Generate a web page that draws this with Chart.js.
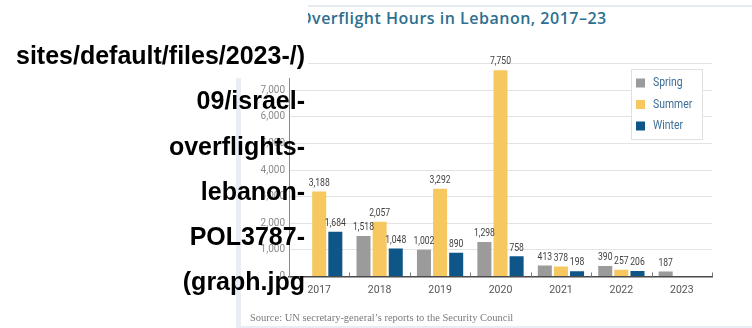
<!DOCTYPE html>
<html><head><meta charset="utf-8">
<script src="https://cdn.jsdelivr.net/npm/chart.js@4.4.0/dist/chart.umd.min.js"></script>
<style>
html,body{margin:0;padding:0;background:#fff;width:752px;height:328px;overflow:hidden;}
#wrap{position:relative;width:752px;height:328px;}
canvas{position:absolute;left:0;top:0;}
.abs{position:absolute;}
#topline{left:308px;top:5px;width:444px;height:2px;background:#e6ebf0;}
#title{left:299px;top:8px;font:600 16px "Open Sans",sans-serif;letter-spacing:0.5px;color:#2e6f90;white-space:nowrap;line-height:20px;}
#leftstrip{left:236px;top:78px;width:5px;height:250px;background:#e8eef4;}
#bottomstrip{left:236px;top:326px;width:516px;height:2px;background:#e8eef4;}
#source{left:250px;top:312px;font:10.5px "Liberation Serif",serif;color:#7a7a7a;white-space:nowrap;line-height:12px;}
#cover{left:0;top:0;width:308px;height:78px;background:#fff;}
#alt{left:0;top:33px;width:305px;text-align:right;font:bold 25px "Liberation Sans",Arial,sans-serif;line-height:45.3px;color:#000;}
</style>
</head><body>
<div id="wrap">
<div class="abs" id="topline"></div>
<div class="abs" id="title">Overflight Hours in Lebanon, 2017–23</div>
<canvas id="c" width="752" height="328"></canvas>
<div class="abs" id="leftstrip"></div>
<div class="abs" id="bottomstrip"></div>
<div class="abs" id="source">Source: UN secretary-general’s reports to the Security Council</div>
<div class="abs" id="cover"></div>
<div class="abs" id="alt">sites/default/files/2023-/)<br>09/israel-<br>overflights-<br>lebanon-<br>POL3787-<br>(graph.jpg</div>
</div>
<script>
const categories = ['2017','2018','2019','2020','2021','2022','2023'];
const springHours = [null, 1518, 1002, 1298, 413, 390, 187];
const summerHours = [3188, 2057, 3292, 7750, 378, 257, null];
const winterHours = [1684, 1048, 890, 758, 198, 206, null];
const seriesNames = ['Spring', 'Summer', 'Winter'];
const seriesColors = ['#9b9b9b', '#f6c85f', '#0d5687'];
const yMin = 0, yMax = 8000, yStep = 1000;

const FAM = 'Roboto, "Liberation Sans", sans-serif';

function narrowText(ctx, text, x, y, sx) {
  ctx.save(); ctx.translate(x, y); ctx.scale(sx, 1); ctx.fillText(text, 0, 0); ctx.restore();
}

const valueLabels = {
  id: 'valueLabels',
  afterDatasetsDraw(chart) {
    const ctx = chart.ctx; ctx.save();
    ctx.font = '11px ' + FAM; ctx.fillStyle = '#3f3f3f';
    ctx.textAlign = 'center'; ctx.textBaseline = 'bottom';
    chart.data.datasets.forEach((ds, i) => {
      const meta = chart.getDatasetMeta(i);
      meta.data.forEach((bar, j) => {
        const v = ds.data[j]; if (v == null) return;
        narrowText(ctx, v.toLocaleString('en-US'), bar.x, bar.y - 3, 0.78);
      });
    });
    ctx.restore();
  }
};

const catTicks = {
  id: 'catTicks',
  afterDraw(chart) {
    const xs = chart.scales.x, ctx = chart.ctx, b = chart.chartArea.bottom;
    ctx.save(); ctx.strokeStyle = '#777'; ctx.lineWidth = 1;
    for (let i = 1; i <= categories.length; i++) {
      const px = Math.round(xs.getPixelForValue(i - 0.5)) + 0.5;
      ctx.beginPath(); ctx.moveTo(px, b - 4); ctx.lineTo(px, b); ctx.stroke();
    }
    ctx.restore();
  }
};

const boxLegend = {
  id: 'boxLegend',
  afterDraw(chart) {
    const ctx = chart.ctx, ca = chart.chartArea;
    const bw = 71, bh = 70, bx = ca.right - 10 - bw, by = ca.top + 5.5;
    ctx.save();
    ctx.fillStyle = '#fff'; ctx.fillRect(bx, by, bw, bh);
    ctx.strokeStyle = '#e0e0e0'; ctx.lineWidth = 1;
    ctx.strokeRect(Math.round(bx) + 0.5, Math.round(by) + 0.5, bw, bh);
    ctx.font = '13px ' + FAM; ctx.textBaseline = 'middle'; ctx.textAlign = 'left';
    chart.data.datasets.forEach((ds, i) => {
      const cy = by + 14 + i * 21.5;
      ctx.fillStyle = ds.backgroundColor; ctx.fillRect(bx + 5, cy - 4.5, 9, 9);
      ctx.fillStyle = '#3d6d96'; narrowText(ctx, ds.label, bx + 22, cy, 0.8);
    });
    ctx.restore();
  }
};

new Chart(document.getElementById('c'), {
  type: 'bar',
  data: {
    labels: categories,
    datasets: [
      { label: seriesNames[0], data: springHours, backgroundColor: seriesColors[0] },
      { label: seriesNames[1], data: summerHours, backgroundColor: seriesColors[1] },
      { label: seriesNames[2], data: winterHours, backgroundColor: seriesColors[2] }
    ]
  },
  options: {
    responsive: false, animation: false, devicePixelRatio: 1,
    layout: { padding: { left: 0, right: 40, top: 63.5, bottom: 0 } },
    plugins: { legend: { display: false }, title: { display: false }, tooltip: { enabled: false } },
    datasets: { bar: { barPercentage: 0.87, categoryPercentage: 0.8, borderWidth: 0 } },
    scales: {
      x: {
        grid: { display: false, drawTicks: false },
        border: { display: true, color: '#4a4a4a', width: 1.5 },
        ticks: { padding: 8, color: '#555', font: { family: FAM, size: 10.5 } },
        afterFit(s) { s.height = 51.5; }
      },
      y: {
        min: yMin, max: yMax,
        ticks: { stepSize: yStep, padding: 4, color: '#8a8a8a', font: { family: FAM, size: 10 } },
        grid: { color: '#e3e3e3', drawTicks: false },
        border: { display: true, color: '#8a8a8a', width: 1 },
        afterFit(s) { s.width = 289; }
      }
    }
  },
  plugins: [valueLabels, catTicks, boxLegend]
});
</script>
</body></html>
